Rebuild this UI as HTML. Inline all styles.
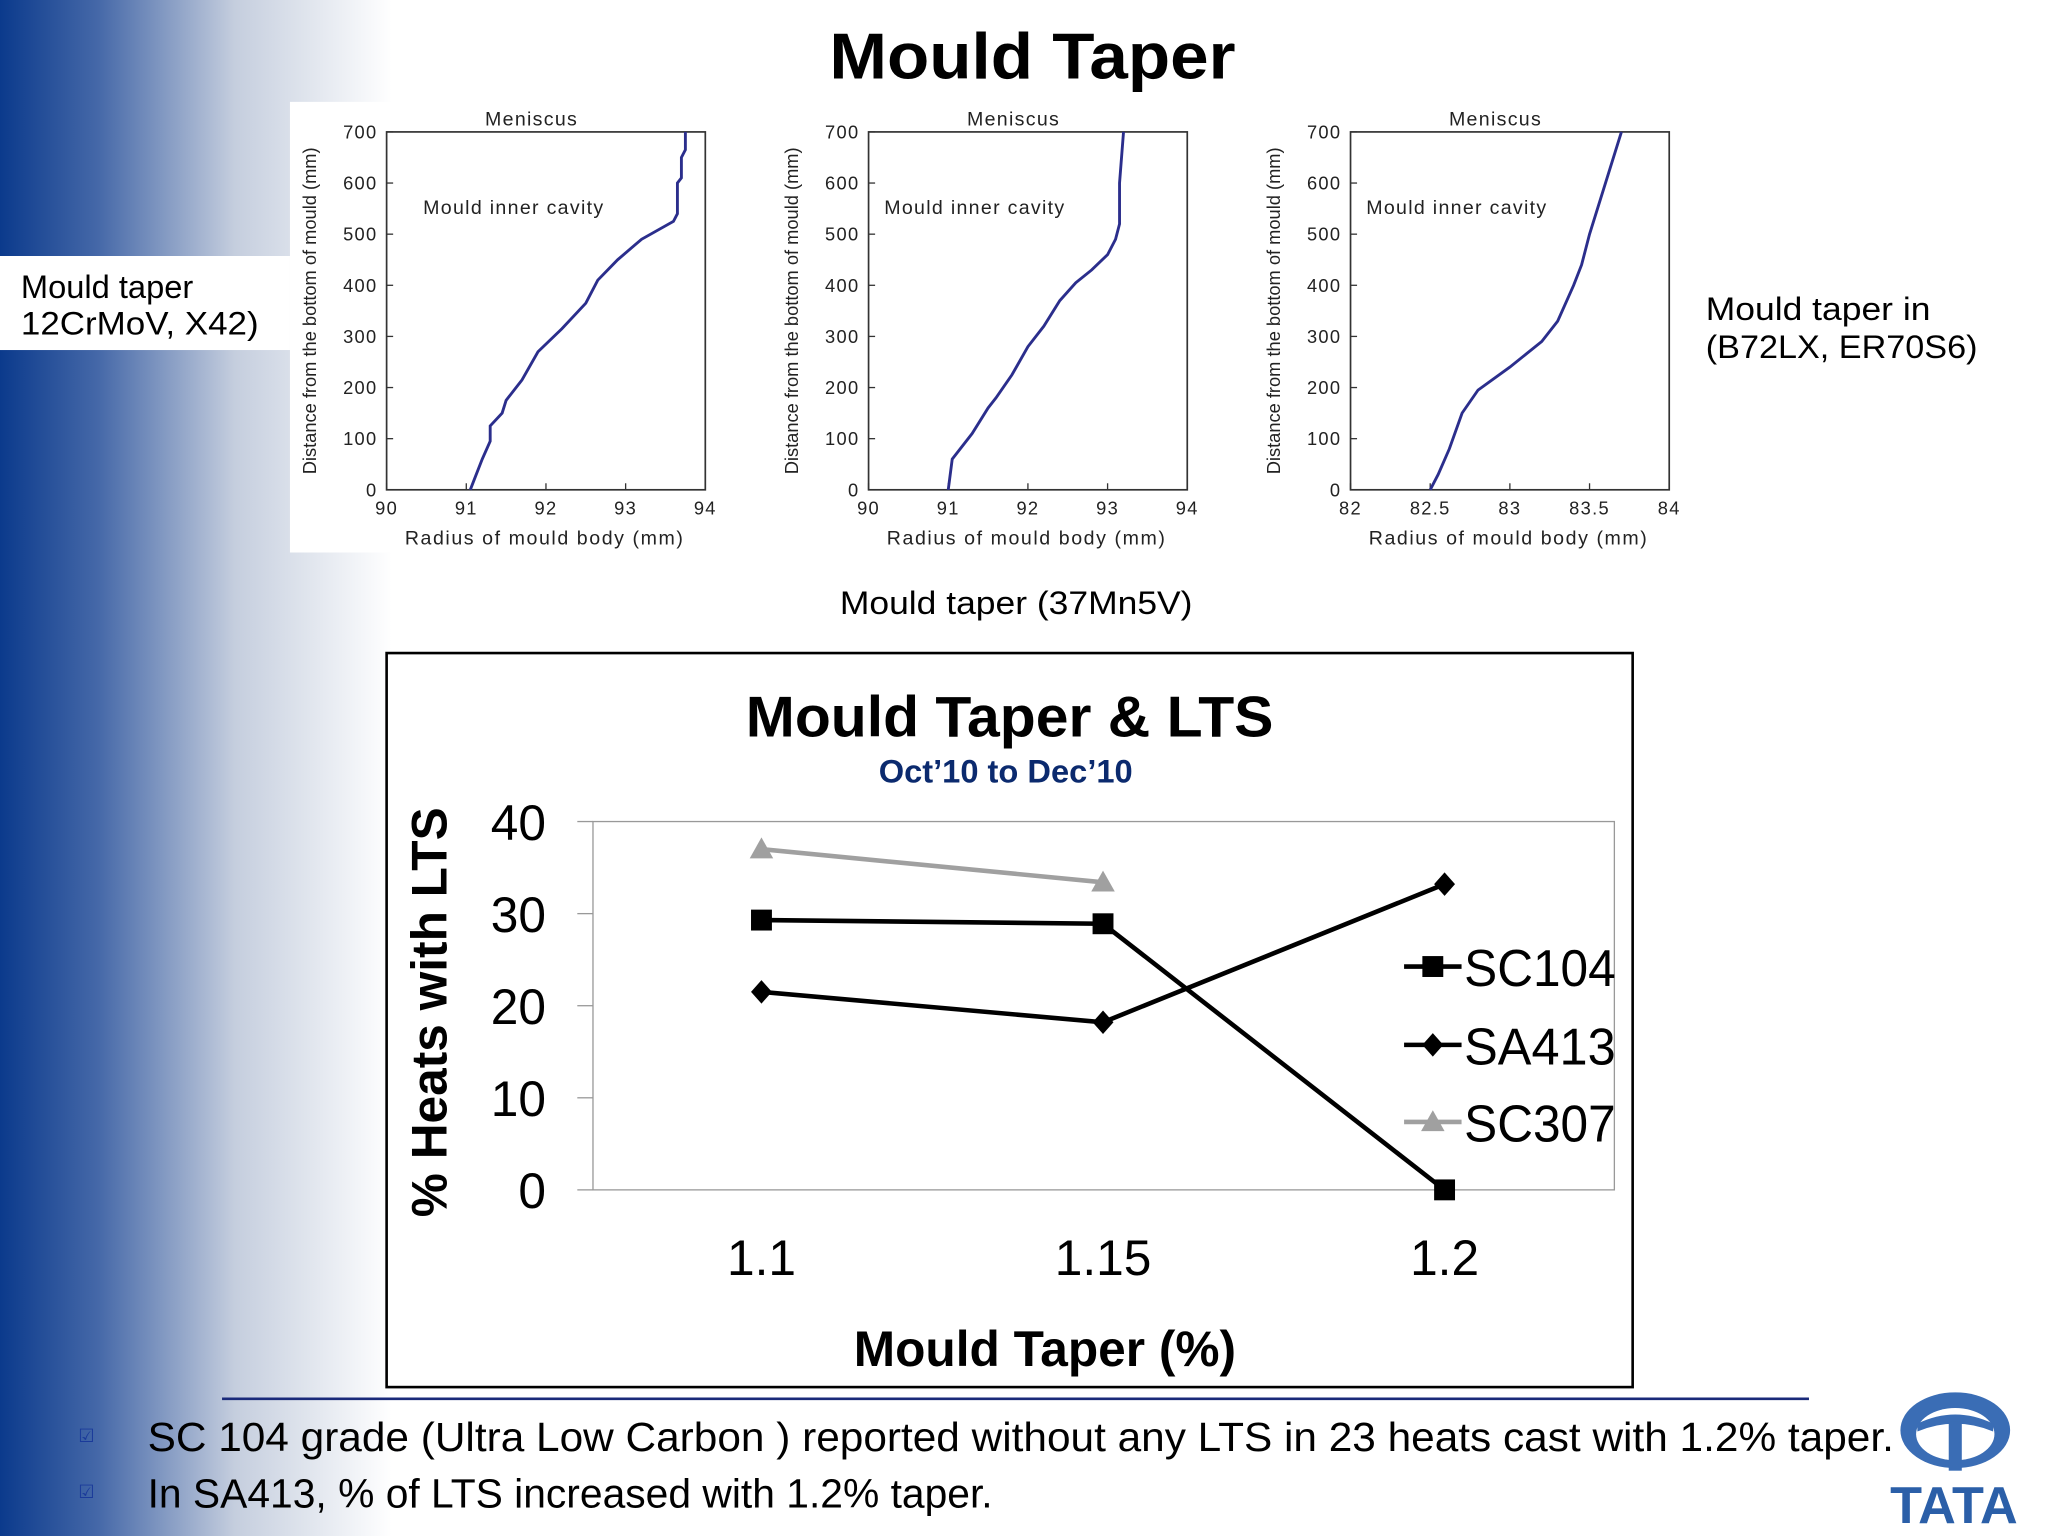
<!DOCTYPE html>
<html><head><meta charset="utf-8"><style>
html,body{margin:0;padding:0;background:#fff;}
svg{display:block;font-family:"Liberation Sans","DejaVu Sans",sans-serif;}
</style></head><body>
<svg id="s" width="2048" height="1536" viewBox="0 0 1568 1176" xmlns="http://www.w3.org/2000/svg">
<defs><linearGradient id="bg" x1="0" x2="1" y1="0" y2="0">
<stop offset="0" stop-color="#0b3a8c"/><stop offset="0.25" stop-color="#4568a8"/><stop offset="0.6" stop-color="#c5cede"/><stop offset="1" stop-color="#ffffff"/></linearGradient></defs>
<rect x="0" y="0" width="300" height="1176" fill="url(#bg)"/>
<rect x="0" y="196" width="222" height="72" fill="#fff"/>
<rect x="222" y="78" width="330" height="345" fill="#fff"/>
<text x="635" y="60" font-size="50" font-weight="bold" textLength="311" lengthAdjust="spacingAndGlyphs">Mould Taper</text>
<text x="16" y="228" font-size="25">Mould taper</text>
<text x="16" y="256" font-size="25" textLength="182" lengthAdjust="spacingAndGlyphs">12CrMoV, X42)</text>
<text x="1306" y="245" font-size="25" textLength="172" lengthAdjust="spacingAndGlyphs">Mould taper in</text>
<text x="1306" y="274" font-size="25" textLength="208" lengthAdjust="spacingAndGlyphs">(B72LX, ER70S6)</text>
<text x="643" y="470" font-size="25" textLength="270" lengthAdjust="spacingAndGlyphs">Mould taper (37Mn5V)</text>
<g id="small"></g>
<rect x="296" y="500" width="954" height="562" fill="#fff" stroke="#000" stroke-width="2"/>
<text x="571" y="564" font-size="44" font-weight="bold" textLength="404" lengthAdjust="spacingAndGlyphs">Mould Taper &amp; LTS</text>
<text x="770" y="599" font-size="25" font-weight="bold" fill="#0b2a6e" text-anchor="middle">Oct’10 to Dec’10</text>
<g id="main"></g>
<text transform="translate(342,775) rotate(-90)" font-size="38" font-weight="bold" text-anchor="middle">% Heats with LTS</text>
<text x="800" y="1046" font-size="38" font-weight="bold" text-anchor="middle">Mould Taper (%)</text>
<line x1="170" y1="1071" x2="1385" y2="1071" stroke="#1a2a7a" stroke-width="2"/>
<text x="60" y="1104" font-size="14" fill="#1a3a9a">☑</text>
<text x="60" y="1147" font-size="14" fill="#1a3a9a">☑</text>
<text x="113" y="1111" font-size="31" textLength="1337" lengthAdjust="spacingAndGlyphs">SC 104 grade (Ultra Low Carbon ) reported without any LTS in 23 heats cast with 1.2% taper.</text>
<text x="113" y="1154" font-size="31" textLength="647" lengthAdjust="spacingAndGlyphs">In SA413, % of LTS increased with 1.2% taper.</text>
<g>
<ellipse cx="1497" cy="1095" rx="42" ry="29" fill="#3a6db5"/>
<ellipse cx="1497" cy="1098" rx="30" ry="20" fill="#fff"/>
<path d="M1468 1090 Q1497 1076 1526 1090 L1526 1096 Q1497 1084 1468 1096 Z" fill="#3a6db5"/>
<rect x="1492" y="1088" width="10" height="38" fill="#3a6db5"/>
<text x="1496" y="1166" font-size="40" font-weight="bold" fill="#2b5fa8" text-anchor="middle">TATA</text>
</g>
</svg>
<script>
// ----- small taper plots data -----
const p1R=[91.05,91.1,91.2,91.3,91.3,91.45,91.5,91.7,91.9,92.2,92.5,92.65,92.9,93.2,93.6,93.65,93.65,93.7,93.7,93.75,93.75];
const p1H=[0,20,60,95,125,150,175,215,270,315,365,410,450,490,525,540,600,610,650,665,700];
const p2R=[91.0,91.05,91.3,91.5,91.6,91.8,92.0,92.2,92.4,92.6,92.8,93.0,93.1,93.15,93.15,93.2];
const p2H=[0,60,110,160,180,225,280,320,370,405,430,460,490,520,600,700];
const p3R=[82.5,82.55,82.62,82.7,82.8,83.0,83.2,83.3,83.4,83.45,83.5,83.6,83.7];
const p3H=[0,30,80,150,195,240,290,330,400,440,500,600,700];
const yTicks=[0,100,200,300,400,500,600,700];
const xTicksA=[90,91,92,93,94];
const xTicksB=[82,82.5,83,83.5,84];
const NS="http://www.w3.org/2000/svg";
function mk(tag,attrs,parent,txt){const e=document.createElementNS(NS,tag);for(const k in attrs)e.setAttribute(k,attrs[k]);if(txt!==undefined)e.textContent=txt;parent.appendChild(e);return e;}
const small=document.getElementById('small');
function smallPlot(x0,R,H,xt,idx){
  const x1=x0+244,y0=101,y1=375;
  const xmin=xt[0],xmax=xt[xt.length-1];
  const sx=v=>x0+(v-xmin)/(xmax-xmin)*(x1-x0);
  const sy=v=>y1-(v/700)*(y1-y0);
  const g=mk('g',{},small);
  
  
  const fr=mk('rect',{x:x0,y:y0,width:x1-x0,height:y1-y0,fill:'none',stroke:'#333','stroke-width':1.3},g);
  
  
  yTicks.forEach(t=>{mk('line',{x1:x0,x2:x0+5,y1:sy(t),y2:sy(t),stroke:'#333'},g);
    const l=mk('text',{x:x0-7,y:sy(t)+5,'font-size':14,'text-anchor':'end','letter-spacing':1,fill:'#222'},g,t);
    
    });
  xt.forEach(t=>{mk('line',{x1:sx(t),x2:sx(t),y1:y1,y2:y1-5,stroke:'#333'},g);
    const l=mk('text',{x:sx(t),y:y1+19,'font-size':14,'text-anchor':'middle','letter-spacing':1,fill:'#222'},g,t);
    
    });
  const m=mk('text',{x:(x0+x1)/2-11,y:96,'font-size':15,'text-anchor':'middle','letter-spacing':1,fill:'#222'},g,'Meniscus');
  
  
  const c=mk('text',{x:x0+28+(idx===2?-16:0)+(idx===3?-16:0),y:164,'font-size':15,'letter-spacing':1,fill:'#222'},g,'Mould inner cavity');
  
  
  const xl=mk('text',{x:(x0+x1)/2-1,y:417,'font-size':15,'text-anchor':'middle','letter-spacing':1.2,fill:'#222'},g,'Radius of mould body (mm)');
  
  
  const yl=mk('text',{transform:`translate(${x0-54},238) rotate(-90)`,'font-size':14,'text-anchor':'middle',fill:'#222'},g,'Distance from the bottom of mould (mm)');
  
  
  const pts=R.map((r,i)=>sx(r)+','+sy(H[i])).join(' ');
  const pl=mk('polyline',{points:pts,fill:'none',stroke:'#2b2e8c','stroke-width':2.2},g);
  
  
}
smallPlot(296,p1R,p1H,xTicksA,1);
smallPlot(665,p2R,p2H,xTicksA,2);
smallPlot(1034,p3R,p3H,xTicksB,3);

// ----- main chart data -----
const categories=['1.1','1.15','1.2'];
const sc104=[29.3,28.9,0];
const sa413=[21.5,18.2,33.2];
const sc307=[37.0,33.4];
const mainYTicks=[0,10,20,30,40];
const main=document.getElementById('main');
const PX0=454,PX1=1236,PY0=629,PY1=911;
const cx=i=>583+i*261.5;
const cy=v=>PY1-v/40*(PY1-PY0);
const pa=mk('rect',{x:PX0,y:PY0,width:PX1-PX0,height:PY1-PY0,fill:'none',stroke:'#999','stroke-width':1},main);


mainYTicks.forEach(t=>{mk('line',{x1:PX0-12,x2:PX0,y1:cy(t),y2:cy(t),stroke:'#999'},main);
  const l=mk('text',{x:418,y:cy(t)+14,'font-size':38,'text-anchor':'end'},main,t);
  
  });
categories.forEach((c,i)=>{const l=mk('text',{x:cx(i),y:976,'font-size':38,'text-anchor':'middle'},main,c);
  
  });
function marker(g,shape,x,y,col){
  if(shape==='sq')return mk('rect',{x:x-8,y:y-8,width:16,height:16,fill:col},g);
  if(shape==='di')return mk('polygon',{points:`${x},${y-9} ${x+8},${y} ${x},${y+9} ${x-8},${y}`,fill:col},g);
  return mk('polygon',{points:`${x},${y-9} ${x+9},${y+7} ${x-9},${y+7}`,fill:col},g);
}
function series(name,vals,shape,col,ly){
  const g=mk('g',{},main);
  
  
  const pl=mk('polyline',{points:vals.map((v,i)=>cx(i)+','+cy(v)).join(' '),fill:'none',stroke:col,'stroke-width':3.5},g);
  
  
  vals.forEach((v,i)=>{const m=marker(g,shape,cx(i),cy(v),col);
    
    });
  const lg=mk('g',{},main);
  
  
  mk('line',{x1:1075,x2:1119,y1:ly,y2:ly,stroke:col,'stroke-width':3.5},lg);
  marker(lg,shape,1097,ly,col);
  mk('text',{x:1121,y:ly+15,'font-size':40,fill:'#000',textLength:116,lengthAdjust:'spacingAndGlyphs'},lg,name);
}
series('SC307',sc307,'tr','#a0a0a0',859);
series('SA413',sa413,'di','#000',800);
series('SC104',sc104,'sq','#000',740);
</script>
</body></html>
